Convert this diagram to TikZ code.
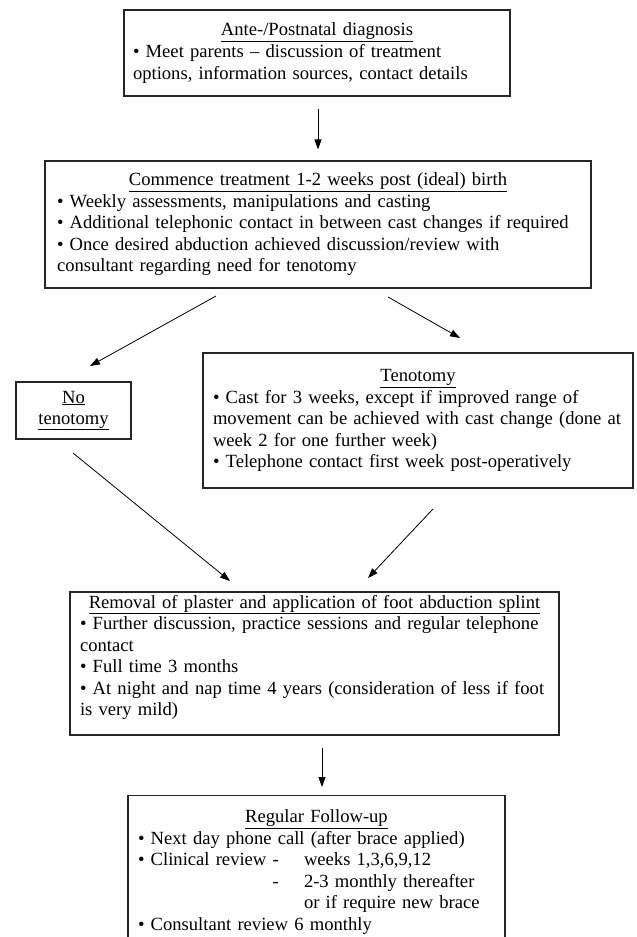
\documentclass[tikz,border=0pt]{standalone}
\usepackage{fontspec}
\setmainfont{Liberation Serif}
\usetikzlibrary{arrows.meta,positioning,calc}
\newcommand{\flowtext}[2]{\noindent\begin{tabular}{@{}l@{}}\multicolumn{1}{@{}l@{}}{\makebox[\linewidth][c]{\underline{#1}}}\\#2\end{tabular}}
\newcommand{\bul}{\textbullet\ }

\begin{document}
\begin{tikzpicture}[x=1pt,y=-1pt,>={Triangle[length=10pt,width=7pt]},
    flow/.style={draw=black!85, line width=1.1pt, align=left, inner ysep=0pt,
        font={\fontsize{18.6}{21.5}\selectfont}},
    arr/.style={->, line width=0.8pt}]
    % Page frame
    \useasboundingbox (0,0) rectangle (637,937);
    \clip (0,0) rectangle (637,937);

    % Draw boxes
    \node[flow, text width=368pt, inner xsep=9pt, minimum height=86pt,
        font={\fontsize{18.6}{22}\selectfont}] (diag) at (317,53)
        {\flowtext{Ante-/Postnatal diagnosis}{%
        \bul Meet parents – discussion of treatment\\
        options, information sources, contact details}};
    \node[flow, text width=522pt, inner xsep=12pt, minimum height=127pt] (start) at (318,224.5)
        {\flowtext{Commence treatment 1-2 weeks post (ideal) birth}{%
        \bul Weekly assessments, manipulations and casting\\
        \bul Additional telephonic contact in between cast changes if required\\
        \bul Once desired abduction achieved discussion/review with\\
        consultant regarding need for tenotomy}};
    \node[flow, align=center, text width=101pt, inner xsep=7pt, minimum height=57pt,
        font={\fontsize{18.6}{21}\selectfont}] (noten) at (73.5,410.5)
        {\rule{0pt}{8pt}\underline{No}\\\underline{tenotomy}};
    \node[flow, text width=410pt, inner xsep=10pt, minimum height=135pt] (ten) at (418,420.5)
        {\flowtext{Tenotomy}{%
        \bul Cast for 3 weeks, except if improved range of\\
        movement can be achieved with cast change (done at\\
        week 2 for one further week)\\
        \bul Telephone contact first week post-operatively}};
    \node[flow, text width=469pt, inner xsep=10pt, minimum height=143pt] (splint) at (314.5,663.5)
        {\flowtext{Removal of plaster and application of foot abduction splint}{%
        \bul Further discussion, practice sessions and regular telephone\\
        contact\\
        \bul Full time 3 months\\
        \bul At night and nap time 4 years (consideration of less if foot\\
        is very mild\rule[-18pt]{0pt}{1pt})}};
    \node[flow, text width=357pt, inner xsep=10pt, inner ysep=12pt, anchor=north] (follow) at (316.5,795)
        {\flowtext{Regular Follow-up}{%
        \bul Next day phone call (after brace applied)\\
        \makebox[166pt][l]{\bul Clinical review -}weeks 1,3,6,9,12\\
        \makebox[166pt][l]{\phantom{\bul Clinical review }-}2-3 monthly thereafter\\
        \hspace*{166pt}or if require new brace\\
        \bul Consultant review 6 monthly}};

    % Arrow ends between boxes
    \coordinate (l1) at (216,296);
    \coordinate (l2) at (90,366);
    \coordinate (r1) at (388,297);
    \coordinate (r2) at (460,338);
    \coordinate (m1) at (73,453);
    \coordinate (m2) at (230,581);
    \coordinate (t1) at (433,509);
    \coordinate (t2) at (368,578);

    % Draw arrows
    \draw[arr, shorten <=12pt, shorten >=11pt] (diag.south -| start.north) -- (start.north);
    \draw[arr] (l1) -- (l2);
    \draw[arr] (r1) -- (r2);
    \draw[arr] (m1) -- (m2);
    \draw[arr] (t1) -- (t2);
    \draw[arr, shorten <=12pt, shorten >=8pt] (splint.south -| 322,0) -- (follow.north -| 322,0);
\end{tikzpicture}
\end{document}
